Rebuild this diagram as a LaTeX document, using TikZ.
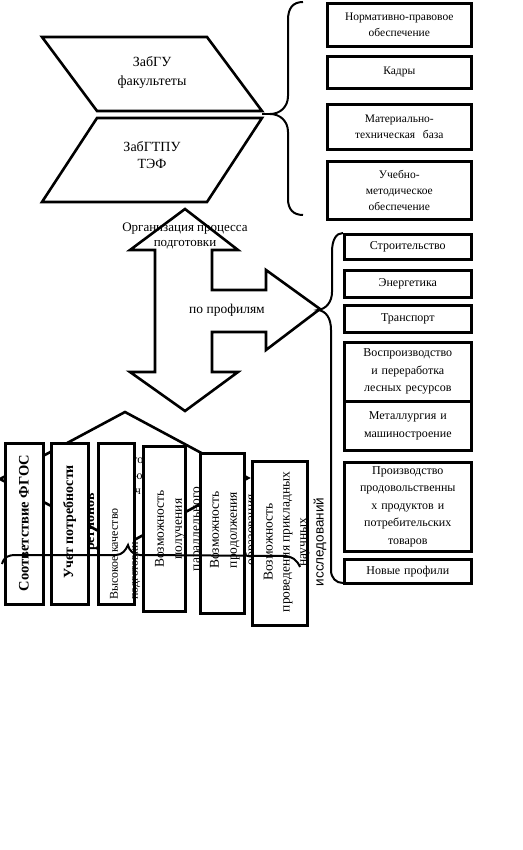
\documentclass[tikz,border=0pt]{standalone}
\usepackage{fontspec}
\setmainfont{Liberation Serif}
\newfontfamily\sansru{Liberation Sans}
\usetikzlibrary{positioning}

\tikzset{
  outline/.style={line width=2.6pt, line join=miter},
  brace/.style={line width=2pt},
  tbox/.style={draw, line width=2.6pt, fill=white, align=center, inner sep=0pt,
    anchor=north west, text width=140pt, minimum width=144pt,
    font=\fontsize{11.5}{16}\selectfont},
  pbox/.style={tbox, text width=125pt, minimum width=127pt,
    font=\fontsize{12}{17.5}\selectfont},
  vbox/.style={draw, line width=2.6pt, fill=white, anchor=north west, inner sep=0pt},
  vtext/.style={rotate=90, align=center, inner sep=0pt,
    font=\fontsize{13.5}{18}\selectfont},
  lbl/.style={align=center, inner sep=0pt}
}

\begin{document}
\begin{tikzpicture}[x=1pt, y=-1pt]
  \useasboundingbox (0,0) rectangle (522,850);

  % universities
  \draw[outline] (42,37) -- (207,37) -- (262,111) -- (97,111) -- cycle;
  \node[lbl, font=\fontsize{14}{19}\selectfont] (zabgu) at (152,73) {ЗабГУ\\факультеты};
  \draw[outline] (97,118) -- (262,118) -- (207,202) -- (42,202) -- cycle;
  \node[lbl, font=\fontsize{14}{17}\selectfont] (zabgtpu) at (152,155) {ЗабГТПУ\\ТЭФ};

  % resources brace
  \coordinate (uni) at (262,114);
  \coordinate (restip) at (270,114);
  \draw[brace] (uni) -- (restip);
  \draw[brace] (303,2) .. controls (293,2) and (288,8) .. (288,20) -- (288,96)
    .. controls (288,107) and (280,114) .. (restip)
    .. controls (280,114) and (288,121) .. (288,132) -- (288,199)
    .. controls (288,209) and (293,215) .. (303,215);

  \node[tbox, minimum height=43pt] (norm) at (326,2) {Нормативно-правовое\\обеспечение};
  \node[tbox, minimum height=32pt] (staff) at (326,55) {Кадры};
  \node[tbox, minimum height=45pt] (base) at (326,103) {Материально-\\техническая\ \ база};
  \node[tbox, minimum height=58pt] (method) at (326,160) {Учебно-\\методическое\\обеспечение};

  % process arrow
  \draw[outline] (185,209) -- (238,250) -- (212,250) -- (212,290) -- (266,290)
    -- (266,270) -- (320,309) -- (266,350) -- (266,332) -- (212,332) -- (212,372)
    -- (238,372) -- (185,411) -- (130,372) -- (155,372) -- (155,250) -- (130,250) -- cycle;
  \node[lbl, font=\fontsize{13}{15}\selectfont] (org) at (185,236) {Организация процесса\\подготовки};
  \node[lbl, font=\fontsize{13.5}{15}\selectfont] (prof) at (227,310) {по профилям};

  % profiles brace
  \coordinate (proftip) at (318,310);
  \draw[brace] (343,233) .. controls (336,233) and (332,240) .. (332,252) -- (332,292)
    .. controls (332,302) and (326,309) .. (proftip)
    .. controls (326,311) and (331,318) .. (331,330) -- (331,570)
    .. controls (331,578) and (336,583) .. (343,583);

  \node[pbox, minimum height=25pt] (build) at (343,233) {Строительство};
  \node[pbox, minimum height=27pt] (energy) at (343,269) {Энергетика};
  \node[pbox, minimum height=27pt] (trans) at (343,304) {Транспорт};
  \node[pbox, minimum height=59pt] (forest) at (343,341) {Воспроизводство\\и переработка\\лесных ресурсов};
  \node[pbox, minimum height=49pt] (metal) at (343,400) {Металлургия и\\машиностроение};
  \node[pbox, minimum height=89pt] (food) at (343,461) {Производство\\продовольственны\\х продуктов и\\потребительских\\товаров};
  \node[pbox, minimum height=24pt] (newp) at (343,558) {Новые профили};

  % quality diamond
  \draw[outline] (0,479) -- (125,412) -- (248,478) -- (125,545) -- cycle;
  \node[lbl, font=\fontsize{12}{16}\selectfont] (q1) at (138,461) {го};
  \node[lbl, font=\fontsize{12}{16}\selectfont] (q2) at (138,477) {ю};
  \node[lbl, font=\fontsize{12}{16}\selectfont] (q3) at (138,492) {ч};

  % principles
  \node[vbox, minimum width=38pt, minimum height=161pt] (fgos) at (4,442) {};
  \node[vtext, font=\bfseries\fontsize{14.5}{20}\selectfont] at (24,523) {Соответствие ФГОС};
  \node[vbox, minimum width=37pt, minimum height=161pt] (need) at (50,442) {};
  \node[vtext, font=\bfseries\fontsize{14}{21}\selectfont] at (80,522) {Учет потребности\\регионов};
  \node[vbox, minimum width=36pt, minimum height=161pt] (qual) at (97,442) {};
  \node[vtext, align=left, anchor=west, font=\fontsize{12}{20}\selectfont] at (125,600) {Высокое качество\\подготовки};
  \node[vbox, minimum width=42pt, minimum height=165pt] (para) at (142,445) {};
  \node[vtext] at (179,529) {Возможность\\получения\\параллельного};
  \node[vbox, minimum width=44pt, minimum height=160pt] (cont) at (199,452) {};
  \node[vtext] at (234,530) {Возможность\\продолжения\\образования};
  \node[vbox, minimum width=55pt, minimum height=164pt] (appl) at (251,460) {};
  \node[vtext, font=\fontsize{13.5}{17}\selectfont] at (295,542) {Возможность\\проведения прикладных\\научных\\{\sansru исследований}};

  % principles brace
  \coordinate (qtip) at (128,545);
  \draw[brace] (2,564) .. controls (4,557) and (8,555) .. (16,555) -- (116,555)
    .. controls (122,555) and (126,550) .. (qtip)
    .. controls (129,550) and (133,555) .. (140,555) -- (284,556)
    .. controls (292,556) and (297,560) .. (300,567);
\end{tikzpicture}
\end{document}
